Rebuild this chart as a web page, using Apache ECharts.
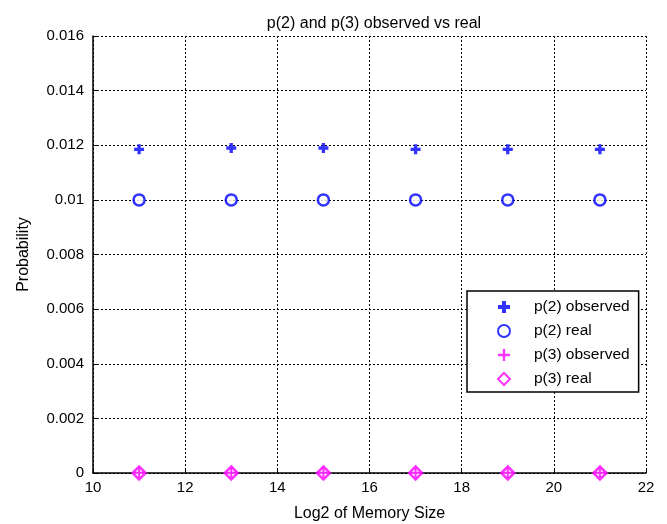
<!DOCTYPE html>
<html>
<head>
<meta charset="utf-8">
<script src="https://cdn.jsdelivr.net/npm/echarts@6/dist/echarts.min.js"></script>
<style>
  html, body { margin: 0; padding: 0; background: #fff; overflow: hidden; }
  #chart { width: 667px; height: 524px; }
</style>
</head>
<body>
<div id="chart"></div>
<script>
// Memory size exponents (log2) on the x axis
const memorySizes = [11, 13, 15, 17, 19, 21];
// Probabilities of each event
const p2Observed = [0.01185, 0.0119, 0.0119, 0.01185, 0.01185, 0.01185];
const p2Real     = [0.01, 0.01, 0.01, 0.01, 0.01, 0.01];
const p3Observed = [0.00001, 0.00001, 0.00001, 0.00001, 0.00001, 0.00001];
const p3Real     = [0, 0, 0, 0, 0, 0];

const FONT = '"Liberation Sans", Arial, sans-serif';

const thickPlus = 'path://M3,0H6V3H9V6H6V9H3V6H0V3H3Z';
const thinPlus  = 'path://M4,0H6V4H10V6H6V10H4V6H0V4H4Z';

function pairs(xs, ys) { return xs.map((x, i) => [x, ys[i]]); }

const chart = echarts.init(document.getElementById('chart'), null, { renderer: 'canvas' });

const gridLine = { show: true, lineStyle: { color: '#000', type: [2, 2], width: 1 } };

chart.setOption({
  animation: false,
  backgroundColor: '#fff',
  title: {
    text: 'p(2) and p(3) observed vs real',
    left: 369, top: 11, textAlign: 'center',
    textStyle: { fontFamily: FONT, fontSize: 16, fontWeight: 'normal', color: '#000' }
  },
  // fixed plot rectangle; keep the library from shrinking it to fit labels
  grid: { left: 93, right: 21, top: 36, bottom: 51, containLabel: false, outerBoundsMode: 'none' },
  xAxis: {
    type: 'value', min: 10, max: 22, interval: 2,
    name: 'Log2 of Memory Size', nameLocation: 'middle', nameGap: 33,
    nameTextStyle: { fontFamily: FONT, fontSize: 16, color: '#000' },
    axisLine: { show: true, onZero: false, lineStyle: { color: '#000', width: 1.5 } },
    axisTick: { show: true, inside: true, length: 5, lineStyle: { color: '#000' } },
    axisLabel: { fontFamily: FONT, fontSize: 15, color: '#000', margin: 7 },
    splitLine: gridLine
  },
  yAxis: {
    type: 'value', min: 0, max: 0.016, interval: 0.002,
    name: 'Probability', nameLocation: 'middle', nameGap: 61, nameRotate: 90,
    nameTextStyle: { fontFamily: FONT, fontSize: 16, color: '#000' },
    axisLine: { show: true, onZero: false, lineStyle: { color: '#000', width: 1.5 } },
    axisTick: { show: true, inside: true, length: 5, lineStyle: { color: '#000' } },
    axisLabel: {
      fontFamily: FONT, fontSize: 15, color: '#000', margin: 9,
      formatter: v => String(Number(v.toFixed(3)))
    },
    splitLine: gridLine
  },
  legend: {
    orient: 'vertical',
    left: 467, top: 291,
    padding: [8, 9, 5, 30],
    itemGap: 8,
    itemWidth: 12, itemHeight: 12,
    backgroundColor: '#fff',
    borderColor: '#000', borderWidth: 1.5,
    textStyle: { fontFamily: FONT, fontSize: 15.5, color: '#000', padding: [0, 0, 0, 19] },
    data: ['p(2) observed', 'p(2) real', 'p(3) observed', 'p(3) real']
  },
  series: [
    {
      name: 'p(3) real', type: 'scatter', z: 2,
      symbol: 'diamond', symbolSize: 13,
      itemStyle: { color: '#fff', borderColor: '#ff00ff', borderWidth: 2.5 },
      data: pairs(memorySizes, p3Real)
    },
    {
      name: 'p(3) observed', type: 'scatter', z: 3,
      symbol: thinPlus, symbolSize: 10,
      itemStyle: { color: '#ff00ff' },
      data: pairs(memorySizes, p3Observed)
    },
    {
      name: 'p(2) real', type: 'scatter', z: 2,
      symbol: 'circle', symbolSize: 11,
      itemStyle: { color: '#fff', borderColor: '#0000ff', borderWidth: 2.5 },
      data: pairs(memorySizes, p2Real)
    },
    {
      name: 'p(2) observed', type: 'scatter', z: 3,
      symbol: thickPlus, symbolSize: 10,
      itemStyle: { color: '#0000ff' },
      data: pairs(memorySizes, p2Observed)
    }
  ]
});
</script>
</body>
</html>
